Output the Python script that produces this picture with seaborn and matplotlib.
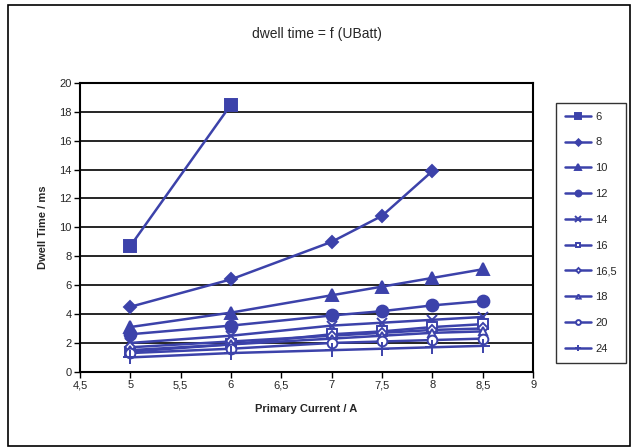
import matplotlib
matplotlib.use("Agg")
import matplotlib.pyplot as plt
import seaborn as sns
import pandas as pd
from matplotlib.patches import Rectangle
from matplotlib.ticker import FuncFormatter, MultipleLocator

sns.set_style("white")
plt.rcParams['font.family'] = ['Liberation Sans', 'DejaVu Sans']

series_labels = ["6", "8", "10", "12", "14", "16", "16,5", "18", "20", "24"]
x_values = {
    "6": [5, 6],
    "8": [5, 6, 7, 7.5, 8],
    "10": [5, 6, 7, 7.5, 8, 8.5],
    "12": [5, 6, 7, 7.5, 8, 8.5],
    "14": [5, 6, 7, 7.5, 8, 8.5],
    "16": [5, 6, 7, 7.5, 8, 8.5],
    "16,5": [5, 6, 7, 7.5, 8, 8.5],
    "18": [5, 6, 7, 7.5, 8, 8.5],
    "20": [5, 6, 7, 7.5, 8, 8.5],
    "24": [5, 6, 7, 7.5, 8, 8.5],
}
y_values = {
    "6": [8.7, 18.5],
    "8": [4.5, 6.4, 9.0, 10.8, 13.9],
    "10": [3.1, 4.1, 5.3, 5.9, 6.5, 7.1],
    "12": [2.6, 3.2, 3.9, 4.2, 4.6, 4.9],
    "14": [2.0, 2.5, 3.2, 3.4, 3.6, 3.8],
    "16": [1.4, 1.9, 2.6, 2.8, 3.1, 3.3],
    "16,5": [1.7, 2.1, 2.5, 2.7, 2.9, 3.0],
    "18": [1.5, 1.9, 2.3, 2.5, 2.7, 2.8],
    "20": [1.3, 1.6, 2.0, 2.1, 2.2, 2.3],
    "24": [1.0, 1.3, 1.5, 1.6, 1.7, 1.8],
}

color = "#3c42aa"
styles = {
    "6": dict(marker="s", ms=9, mfc=color),
    "8": dict(marker="D", ms=6.5, mfc=color),
    "10": dict(marker="^", ms=9, mfc=color),
    "12": dict(marker="o", ms=8.5, mfc=color),
    "14": dict(marker="x", ms=7.5, mfc=color),
    "16": dict(marker="s", ms=7, mfc="white"),
    "16,5": dict(marker="D", ms=5, mfc="white"),
    "18": dict(marker="^", ms=6, mfc="white"),
    "20": dict(marker="o", ms=7, mfc="white"),
    "24": dict(marker="+", ms=10, mfc=color),
}

fig = plt.figure(figsize=(6.34, 4.48), dpi=100)
ax = fig.add_axes([0.126, 0.170, 0.715, 0.645])

for lab in series_labels:
    df = pd.DataFrame({"x": x_values[lab], "y": y_values[lab]})
    st = styles[lab]
    sns.lineplot(data=df, x="x", y="y", ax=ax, color=color, linewidth=1.8,
                 marker=st["marker"], markersize=st["ms"], markerfacecolor=st["mfc"],
                 markeredgecolor=color, markeredgewidth=1.4, label=lab)

ax.set_xlim(4.5, 9)
ax.set_ylim(0, 20)
ax.xaxis.set_major_locator(MultipleLocator(0.5))
ax.yaxis.set_major_locator(MultipleLocator(2))
fmt = FuncFormatter(lambda v, p: (f"{v:g}").replace(".", ","))
ax.xaxis.set_major_formatter(fmt)
ax.yaxis.set_major_formatter(fmt)
ax.grid(axis="y", color="black", linewidth=1.2)
ax.grid(axis="x", visible=False)
ax.set_axisbelow(True)
for s in ax.spines.values():
    s.set_color("black")
    s.set_linewidth(1.5)
ax.tick_params(axis="both", which="major", direction="out", length=4, width=1,
               color="black", labelsize=8, bottom=True, left=True, pad=2)
ax.set_xlabel("Primary Current / A", fontsize=8, fontweight="bold", labelpad=10)
ax.set_ylabel("Dwell Time / ms", fontsize=8, fontweight="bold", labelpad=8)
fig.text(0.5, 0.925, "dwell time = f (UBatt)", ha="center", va="center", fontsize=10)

leg = ax.legend(loc="upper left", bbox_to_anchor=(1.05, 0.931), frameon=True,
                fancybox=False, edgecolor="black", fontsize=8, markerscale=0.5,
                handlelength=2.4, labelspacing=1.42, borderpad=0.8, handletextpad=0.35,
                borderaxespad=0)
leg.get_frame().set_linewidth(1.0)

fig.patches.append(Rectangle((0.012, 0.004), 0.982, 0.984, transform=fig.transFigure,
                             fill=False, edgecolor="black", linewidth=1.2))

fig.savefig("out.png", dpi=100)
